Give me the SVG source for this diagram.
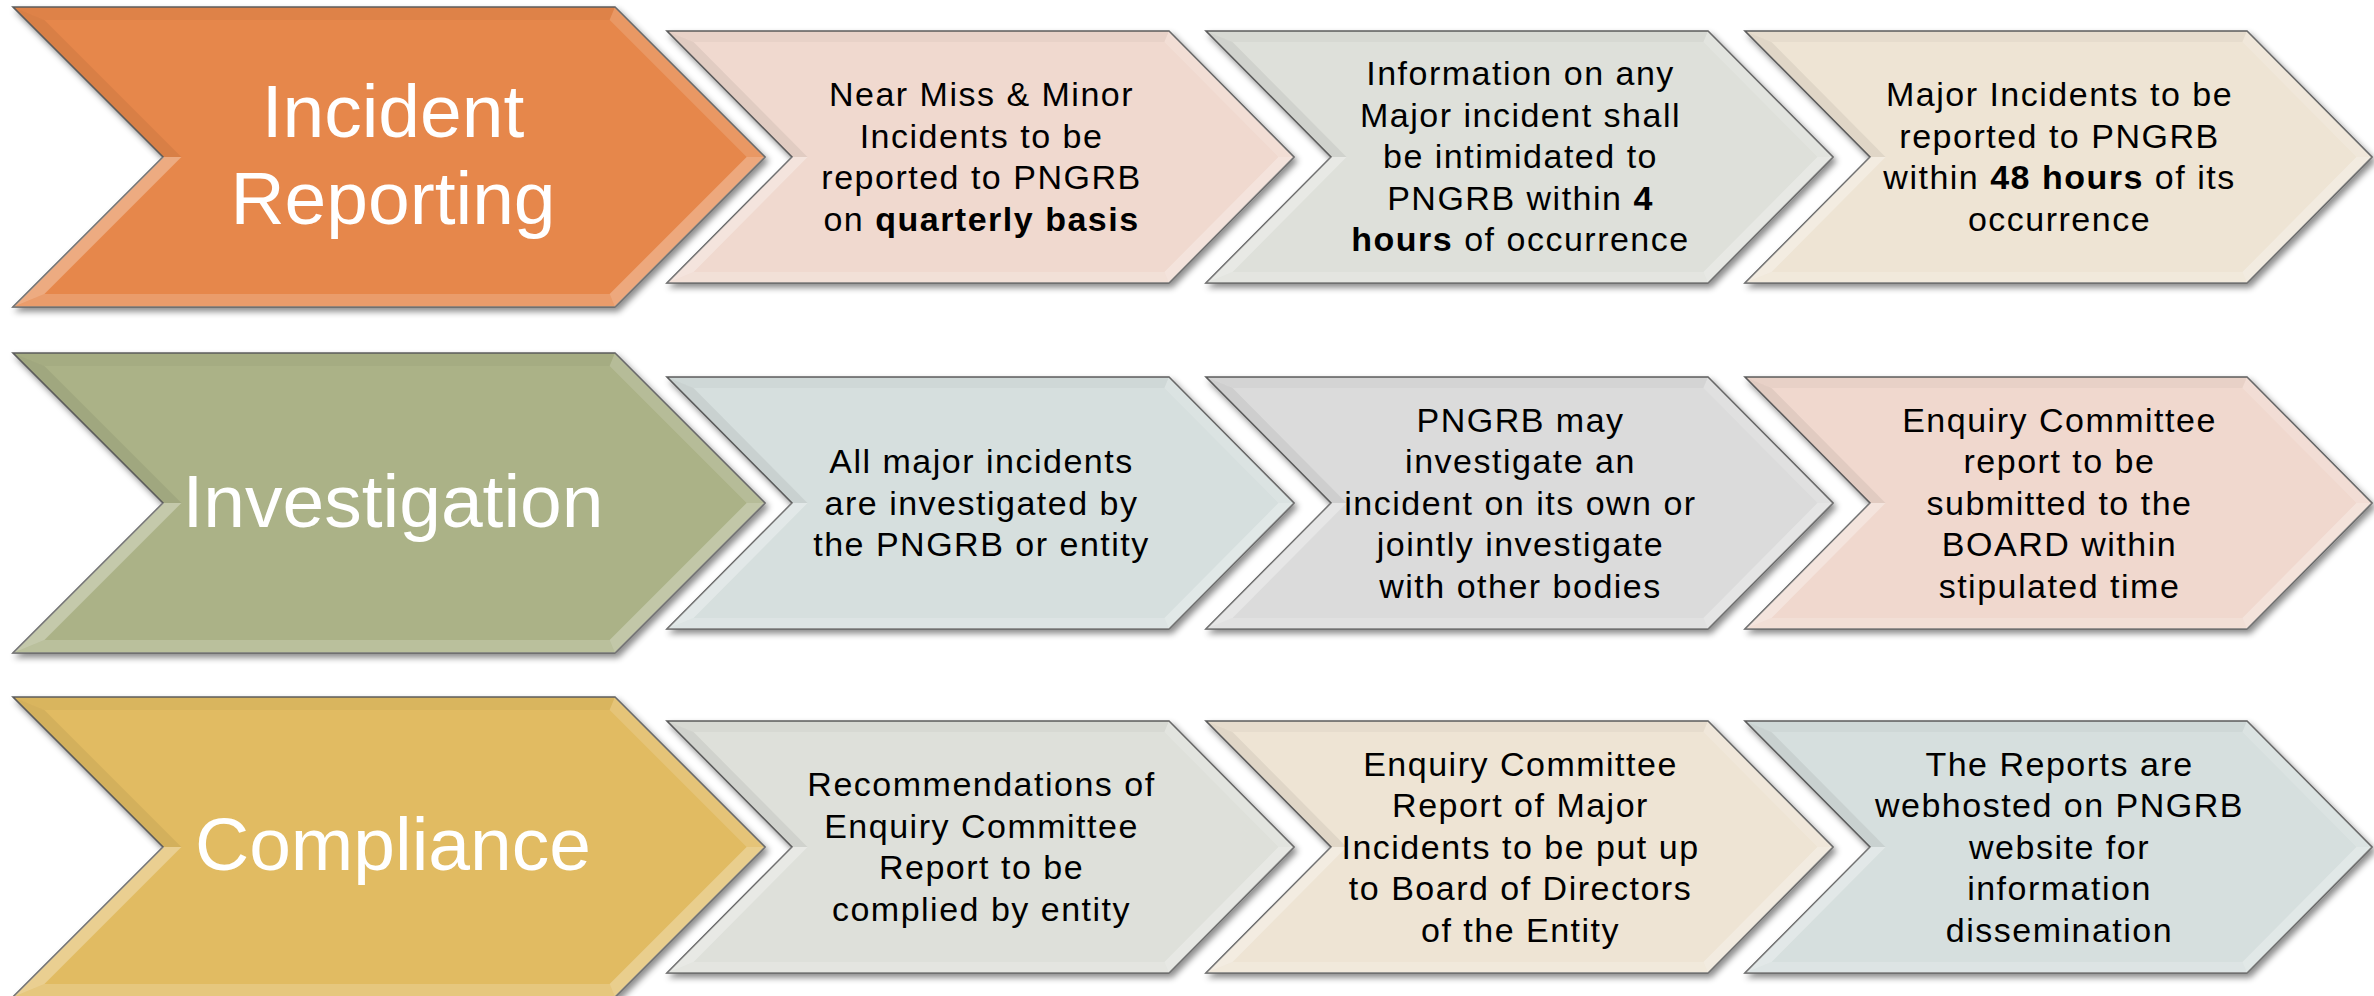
<svg xmlns="http://www.w3.org/2000/svg" xmlns:xlink="http://www.w3.org/1999/xlink" width="2374" height="996" viewBox="0 0 2374 996">
<style>
.shape{stroke:#5e5e5e;stroke-width:1.6;filter:url(#shadow)}
.ft{fill:#000;fill-opacity:0.03}
.fur{fill:#fff;fill-opacity:0.14}
.flr{fill:#fff;fill-opacity:0.28}
.fb{fill:#fff;fill-opacity:0.18}
.fll{fill:#fff;fill-opacity:0.30}
.ful{fill:#000;fill-opacity:0.06}
.big{font-family:"Liberation Sans",Arial,sans-serif;font-size:75px;fill:#fff;text-anchor:middle}
.small{font-family:"Liberation Sans",Arial,sans-serif;font-size:34px;letter-spacing:1.5px;fill:#000;text-anchor:middle}
.b{font-weight:bold}
</style>
<defs>
<filter id="shadow" x="-10%" y="-10%" width="125%" height="130%">
<feDropShadow dx="3" dy="4" stdDeviation="3" flood-color="#000" flood-opacity="0.45"/>
</filter>
<polygon id="bigShape" points="0,0 602,0 752,150 602,300 0,300 150,150"/>
<polygon id="smallShape" points="0,0 502,0 627,126 502,252 0,252 125,126"/>
<g id="bigBevel">
<polygon class="ft" points="0,0 602,0 596.6,13 31.4,13"/>
<polygon class="fur" points="602,0 752,150 733.6,150 596.6,13"/>
<polygon class="flr" points="752,150 602,300 596.6,287 733.6,150"/>
<polygon class="fb" points="602,300 0,300 31.4,287 596.6,287"/>
<polygon class="fll" points="0,300 150,150 168.4,150 31.4,287"/>
<polygon class="ful" points="150,150 0,0 31.4,13 168.4,150"/>
</g>
<g id="smallBevel">
<polygon class="ft" points="0,0 502,0 497.4,11 26.6,11"/>
<polygon class="fur" points="502,0 627,126 611.4,126 497.4,11"/>
<polygon class="flr" points="627,126 502,252 497.4,241 611.4,126"/>
<polygon class="fb" points="502,252 0,252 26.6,241 497.4,241"/>
<polygon class="fll" points="0,252 125,126 140.6,126 26.6,241"/>
<polygon class="ful" points="125,126 0,0 26.6,11 140.6,126"/>
</g>
</defs>
<rect width="2374" height="996" fill="#fff"/>

<!-- Row 1 -->
<g id="incident-reporting">
<use href="#bigShape" x="13" y="7" class="shape" fill="#E6874B"/>
<use href="#bigBevel" x="13" y="7"/>
<text class="big" x="393" y="137">Incident</text>
<text class="big" x="393" y="224">Reporting</text>
</g>
<g id="near-miss">
<use href="#smallShape" x="667" y="31" class="shape" fill="#F0D9CF"/>
<use href="#smallBevel" x="667" y="31"/>
<text class="small" x="981.5" y="106">Near Miss &amp; Minor</text>
<text class="small" x="981.5" y="148">Incidents to be</text>
<text class="small" x="981.5" y="189">reported to PNGRB</text>
<text class="small" x="981.5" y="231">on <tspan class="b">quarterly basis</tspan></text>
</g>
<g id="info-major">
<use href="#smallShape" x="1206" y="31" class="shape" fill="#DEE0DA"/>
<use href="#smallBevel" x="1206" y="31"/>
<text class="small" x="1520.5" y="85">Information on any</text>
<text class="small" x="1520.5" y="127">Major incident shall</text>
<text class="small" x="1520.5" y="168">be intimidated to</text>
<text class="small" x="1520.5" y="210">PNGRB within <tspan class="b">4</tspan></text>
<text class="small" x="1520.5" y="251"><tspan class="b">hours</tspan> of occurrence</text>
</g>
<g id="major-48h">
<use href="#smallShape" x="1745" y="31" class="shape" fill="#EEE4D4"/>
<use href="#smallBevel" x="1745" y="31"/>
<text class="small" x="2059.5" y="106">Major Incidents to be</text>
<text class="small" x="2059.5" y="148">reported to PNGRB</text>
<text class="small" x="2059.5" y="189">within <tspan class="b">48 hours</tspan> of its</text>
<text class="small" x="2059.5" y="231">occurrence</text>
</g>

<!-- Row 2 -->
<g id="investigation">
<use href="#bigShape" x="13" y="353" class="shape" fill="#ABB287"/>
<use href="#bigBevel" x="13" y="353"/>
<text class="big" x="393" y="527">Investigation</text>
</g>
<g id="all-major">
<use href="#smallShape" x="667" y="377" class="shape" fill="#D6DFDE"/>
<use href="#smallBevel" x="667" y="377"/>
<text class="small" x="981.5" y="473">All major incidents</text>
<text class="small" x="981.5" y="514.5">are investigated by</text>
<text class="small" x="981.5" y="556">the PNGRB or entity</text>
</g>
<g id="pngrb-may">
<use href="#smallShape" x="1206" y="377" class="shape" fill="#DBDBDB"/>
<use href="#smallBevel" x="1206" y="377"/>
<text class="small" x="1520.5" y="431.5">PNGRB may</text>
<text class="small" x="1520.5" y="473">investigate an</text>
<text class="small" x="1520.5" y="514.5">incident on its own or</text>
<text class="small" x="1520.5" y="556">jointly investigate</text>
<text class="small" x="1520.5" y="597.5">with other bodies</text>
</g>
<g id="enquiry-report">
<use href="#smallShape" x="1745" y="377" class="shape" fill="#F0D8CE"/>
<use href="#smallBevel" x="1745" y="377"/>
<text class="small" x="2059.5" y="431.5">Enquiry Committee</text>
<text class="small" x="2059.5" y="473">report to be</text>
<text class="small" x="2059.5" y="514.5">submitted to the</text>
<text class="small" x="2059.5" y="556">BOARD within</text>
<text class="small" x="2059.5" y="597.5">stipulated time</text>
</g>

<!-- Row 3 -->
<g id="compliance">
<use href="#bigShape" x="13" y="697" class="shape" fill="#E1BB62"/>
<use href="#bigBevel" x="13" y="697"/>
<text class="big" x="393" y="870">Compliance</text>
</g>
<g id="recommendations">
<use href="#smallShape" x="667" y="721" class="shape" fill="#DEE0DA"/>
<use href="#smallBevel" x="667" y="721"/>
<text class="small" x="981.5" y="796">Recommendations of</text>
<text class="small" x="981.5" y="838">Enquiry Committee</text>
<text class="small" x="981.5" y="879">Report to be</text>
<text class="small" x="981.5" y="921">complied by entity</text>
</g>
<g id="board-report">
<use href="#smallShape" x="1206" y="721" class="shape" fill="#EEE4D4"/>
<use href="#smallBevel" x="1206" y="721"/>
<text class="small" x="1520.5" y="775.5">Enquiry Committee</text>
<text class="small" x="1520.5" y="817">Report of Major</text>
<text class="small" x="1520.5" y="858.5">Incidents to be put up</text>
<text class="small" x="1520.5" y="900">to Board of Directors</text>
<text class="small" x="1520.5" y="941.5">of the Entity</text>
</g>
<g id="webhosted">
<use href="#smallShape" x="1745" y="721" class="shape" fill="#D6DFDE"/>
<use href="#smallBevel" x="1745" y="721"/>
<text class="small" x="2059.5" y="775.5">The Reports are</text>
<text class="small" x="2059.5" y="817">webhosted on PNGRB</text>
<text class="small" x="2059.5" y="858.5">website for</text>
<text class="small" x="2059.5" y="900">information</text>
<text class="small" x="2059.5" y="941.5">dissemination</text>
</g>
</svg>
